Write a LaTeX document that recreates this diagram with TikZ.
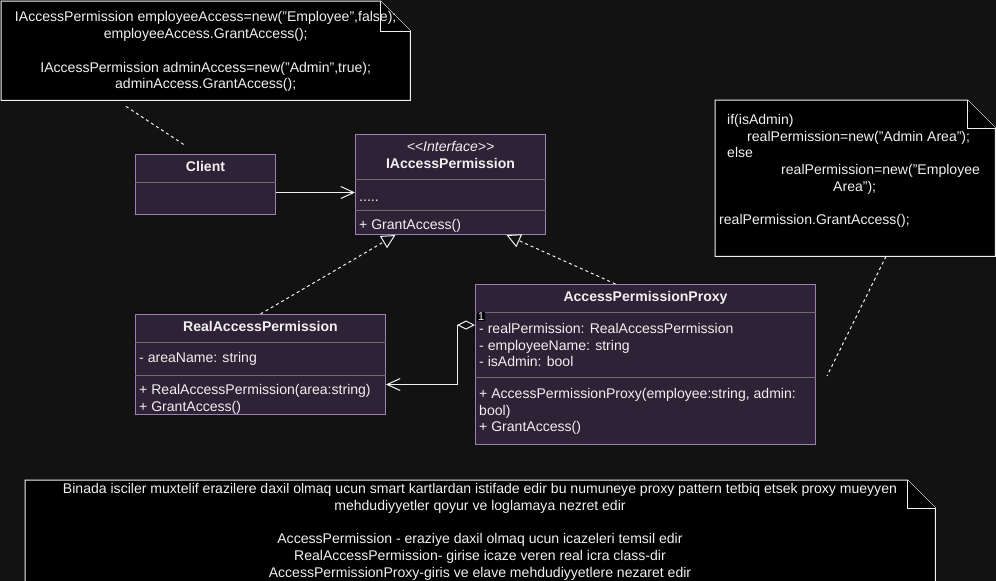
\documentclass[tikz,border=0pt]{standalone}
\usepackage{fontspec}
\setmainfont{Liberation Sans}
\usepackage{tikz}
\usetikzlibrary{arrows.meta, positioning, calc}
\definecolor{bgcol}{HTML}{121212}
\definecolor{classfill}{HTML}{2E2236}
\definecolor{classline}{HTML}{9E7FB3}
\definecolor{sepcol}{HTML}{6E6E6E}
\definecolor{fgcol}{HTML}{F0F0F0}
\tikzstyle{classbox} = [rectangle, draw=classline, fill=classfill, line width=1pt, anchor=north west, inner sep=0pt]
\tikzstyle{notebox} = [rectangle, anchor=north west, inner sep=0pt]
\tikzstyle{notefill} = [draw=fgcol, fill=black, line width=1pt]
\tikzstyle{sep} = [draw=sepcol, line width=1pt]
\tikzstyle{txt} = [font=\fontsize{14.05}{16.7}\selectfont, text=fgcol, inner sep=0pt]
\tikzstyle{title} = [txt, font=\fontsize{14.05}{16.7}\selectfont\bfseries, anchor=base]
\tikzstyle{member} = [txt, align=left, anchor=north west]
\tikzstyle{assoc} = [draw=fgcol, line width=1pt, -{Straight Barb[length=13pt, width=12pt]}]
\tikzstyle{realize} = [draw=fgcol, line width=1pt, dash pattern=on 3pt off 3pt, -{Triangle[open, length=14pt, width=14pt]}]
\tikzstyle{aggr} = [draw=fgcol, line width=1pt, {Diamond[open, length=18pt, width=9pt]}-{Straight Barb[length=13pt, width=12pt]}]
\tikzstyle{noteline} = [draw=fgcol!80, line width=1pt, dash pattern=on 3pt off 3pt]

\begin{document}
\begin{tikzpicture}[x=1pt, y=-1pt]
    \fill[bgcol] (0,0) rectangle (996,581);
    \useasboundingbox (0,0) rectangle (996,581);

    % Notlar
    \node (note1) [notebox, minimum width=409pt, minimum height=99pt] at (1,1) {};
    \draw[notefill] (note1.north west) -- ([xshift=-30pt]note1.north east) -- ([yshift=-30pt]note1.north east) -- (note1.south east) -- (note1.south west) -- cycle;
    \draw[notefill] ([xshift=-30pt]note1.north east) |- ([yshift=-30pt]note1.north east);
    \node (note1txt) [txt, align=center] at ($(note1.center)+(0,1)$) {IAccessPermission employeeAccess=new("Employee",false);\\ employeeAccess.GrantAccess();\\[16.7pt] IAccessPermission adminAccess=new("Admin",true);\\ adminAccess.GrantAccess();};

    \node (note2) [notebox, minimum width=280pt, minimum height=156pt] at (715,100) {};
    \draw[notefill] (note2.north west) -- ([xshift=-28pt]note2.north east) -- ([yshift=-28pt]note2.north east) -- (note2.south east) -- (note2.south west) -- cycle;
    \draw[notefill] ([xshift=-28pt]note2.north east) |- ([yshift=-28pt]note2.north east);
    \node (note2txt) [txt, align=left, anchor=west] at (719,171) {\hspace*{8pt}if(isAdmin)\\ \hspace*{28pt}realPermission=new("Admin Area");\\ \hspace*{8pt}else\\ \hspace*{62pt}realPermission=new("Employee\\ \hspace*{114pt}Area");\\[16.7pt] realPermission.GrantAccess();};

    \node (note3) [notebox, minimum width=910pt, minimum height=110pt] at (25,480) {};
    \draw[notefill] (note3.north west) -- ([xshift=-28pt]note3.north east) -- ([yshift=-28pt]note3.north east) -- (note3.south east) -- (note3.south west) -- cycle;
    \draw[notefill] ([xshift=-28pt]note3.north east) |- ([yshift=-28pt]note3.north east);
    \node (note3txt) [txt, align=center] at (480,532) {Binada isciler muxtelif erazilere daxil olmaq ucun smart kartlardan istifade edir bu numuneye proxy pattern tetbiq etsek proxy mueyyen\\ mehdudiyyetler qoyur ve loglamaya nezret edir\hspace*{68pt}\\[16.7pt] AccessPermission - eraziye daxil olmaq ucun icazeleri temsil edir\\ RealAccessPermission- girise icaze veren real icra class-dir\\ AccessPermissionProxy-giris ve elave mehdudiyyetlere nezaret edir};

    % Siniflar
    \node (client) [classbox, minimum width=140pt, minimum height=60pt] at (135,154) {};
    \draw[sep] ($(client.north west)+(0,28)$) -- ($(client.north east)+(0,28)$);
    \node (clienttitle) [title] at ($(client.north)+(0,17)$) {Client};

    \node (iperm) [classbox, minimum width=190pt, minimum height=100pt] at (355,134) {};
    \draw[sep] ($(iperm.north west)+(0,45)$) -- ($(iperm.north east)+(0,45)$);
    \draw[sep] ($(iperm.north west)+(0,76)$) -- ($(iperm.north east)+(0,76)$);
    \node (ipermstereo) [txt, anchor=base, font=\fontsize{14.05}{16.7}\selectfont\itshape] at ($(iperm.north)+(0,17)$) {\textless{}\textless{}Interface\textgreater{}\textgreater{}};
    \node (ipermtitle) [title] at ($(iperm.north)+(0,34)$) {IAccessPermission};
    \node (ipermattr) [txt, anchor=base west] at ($(iperm.north west)+(4,67)$) {.....};
    \node (ipermops) [txt, anchor=base west] at ($(iperm.north west)+(4,95)$) {+ GrantAccess()};

    \node (real) [classbox, minimum width=250pt, minimum height=100pt] at (135,314) {};
    \draw[sep] ($(real.north west)+(0,28)$) -- ($(real.north east)+(0,28)$);
    \draw[sep] ($(real.north west)+(0,61)$) -- ($(real.north east)+(0,61)$);
    \node (realtitle) [title] at ($(real.north)+(0,17.5)$) {RealAccessPermission};
    \node (realattr) [txt, anchor=base west] at ($(real.north west)+(4,48)$) {- areaName: string};
    \node (realops) [member] at ($(real.north west)+(4,70)$) {+ RealAccessPermission(area:string)\\ + GrantAccess()};

    \node (proxy) [classbox, minimum width=340pt, minimum height=160pt] at (475,284) {};
    \draw[sep] ($(proxy.north west)+(0,28)$) -- ($(proxy.north east)+(0,28)$);
    \draw[sep] ($(proxy.north west)+(0,93)$) -- ($(proxy.north east)+(0,93)$);
    \node (proxytitle) [title] at ($(proxy.north)+(0,17)$) {AccessPermissionProxy};
    \node (proxyattr) [member] at ($(proxy.north west)+(4,39)$) {- realPermission: RealAccessPermission\\ - employeeName: string\\ - isAdmin: bool};
    \node (proxyops) [member] at ($(proxy.north west)+(4,104)$) {+ AccessPermissionProxy(employee:string, admin:\\ bool)\\ + GrantAccess()};

    % Oklar
    \draw[assoc] ($(client.east)+(0,8)$) -- ($(client.east -| iperm.west)+(0,8)$);
    \draw[realize] (real.north) -- ([xshift=-55pt]iperm.south);
    \draw[realize] ([xshift=-30pt]proxy.north) -- ([xshift=56pt]iperm.south);
    \draw[aggr] ($(proxy.north west)+(0,41)$) -- ++(-18,0) |- ($(real.east)+(0,20)$);
    \node (mult) [txt, font=\fontsize{11.5}{12}\selectfont, fill=black, inner sep=0.6pt, anchor=north west] at ($(proxy.north west)+(2,27.5)$) {1};

    % Not baglantilari
    \coordinate (n1a) at ($(note1.south west)+(125,6)$);
    \coordinate (n1b) at ($(client.north west)+(51,-8)$);
    \draw[noteline] (n1a) -- (n1b);
    \coordinate (n2a) at ($(note2.south west)+(171,0)$);
    \coordinate (n2b) at ($(proxy.north east)+(11,92)$);
    \draw[noteline] (n2a) -- (n2b);
\end{tikzpicture}
\end{document}
